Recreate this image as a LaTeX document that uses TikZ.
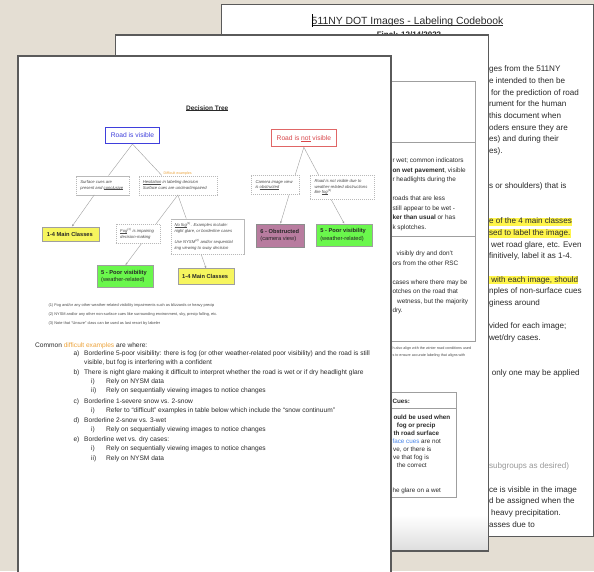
\documentclass[tikz,border=0pt]{standalone}
\usepackage{fontspec}
\setmainfont{Liberation Sans}
\usetikzlibrary{arrows.meta}
\definecolor{bgc}{HTML}{E4DED3}
\definecolor{pageedge}{HTML}{5A5A5A}
\definecolor{txt}{HTML}{2A2A2A}
\definecolor{hl}{HTML}{FFF54A}
\definecolor{vblue}{HTML}{3F3FDC}
\definecolor{nred}{HTML}{E06666}
\definecolor{nredt}{HTML}{D9464A}
\definecolor{myyellow}{HTML}{F6F55E}
\definecolor{mygreen}{HTML}{6AF74C}
\definecolor{mypurple}{HTML}{B87C9F}
\definecolor{orng}{HTML}{EDA33A}
\definecolor{lblue}{HTML}{4A86E8}
\newcommand{\myul}[1]{\leavevmode\setbox0\hbox{#1}\rlap{\rule[-0.13em]{\wd0}{0.07em}}\box0\relax}
\begin{document}
\begin{tikzpicture}[x=1pt,y=-1pt,
  bktext/.style={anchor=base west, inner sep=0pt, font=\fontsize{8.1}{9.5}\selectfont, text=txt},
  hltext/.style={bktext, fill=hl},
  mdtext/.style={anchor=base west, inner sep=0pt, font=\fontsize{6.4}{7.5}\selectfont, text=txt},
  fttext/.style={anchor=base west, inner sep=0pt, font=\fontsize{6.6}{8}\selectfont, text=txt},
  tinytext/.style={anchor=base west, inner sep=0pt, font=\fontsize{3.9}{4.5}\selectfont, text=txt!85},
  dbox/.style={draw=gray!55, dash pattern=on 1.2pt off 0.8pt, line width=0.4pt, inner sep=0pt, anchor=north west},
  dtext/.style={anchor=west, inner sep=0pt, align=left, font=\fontsize{4.2}{5.6}\selectfont\itshape, text=txt!85},
  cbox/.style={draw=gray!75, line width=0.6pt, inner sep=0pt, anchor=north west},
  ctext/.style={anchor=west, inner sep=0pt, align=left, font=\fontsize{5.7}{7.6}\selectfont, text=black!85},
  conn/.style={draw=gray!75, line width=0.4pt},
  arr/.style={conn, -{Stealth[length=2.6pt,width=2pt]}}
]
\useasboundingbox (0,0) rectangle (594,571);
\begin{scope}
\clip (0,0) rectangle (594,571);
\fill[bgc] (0,0) rectangle (594,571);

% ---------- back page ----------
\fill[white] (221.7,4.7) rectangle (593.3,536.7);
\draw[pageedge, line width=1.5pt] (221.7,4.7) rectangle (593.3,536.7);
\node[anchor=base, inner sep=0pt, font=\fontsize{10.4}{12}\selectfont, text=txt] (title) at (407.6,24.2) {\myul{511NY DOT Images - Labeling Codebook}};
\draw[black, line width=1pt] (312.3,14) -- (312.3,26.5);
\node[anchor=base, inner sep=0pt, font=\fontsize{8}{9}\selectfont\bfseries, text=txt] (final) at (409,37.6) {Final: 12/14/2022};

\node[bktext] (b0) at (488.8,71.9) {ges from the 511NY};
\node[bktext] (b1) at (488.8,83.6) {e intended to then be};
\node[bktext] (b2) at (491,95.2) {for the prediction of road};
\node[bktext] (b3) at (488.8,106.9) {rument for the human};
\node[bktext] (b4) at (488.8,118.6) {this document when};
\node[bktext] (b5) at (488.8,130.3) {oders ensure they are};
\node[bktext] (b6) at (488.8,141.9) {es) and during their};
\node[bktext] (b7) at (488.8,153.6) {es).};
\node[bktext] (b9b) at (488.8,188.9) {s or shoulders) that is};
\node[hltext] (b13) at (488.8,223.6) {\rule[-2.4pt]{0pt}{7.8pt}e of the 4 main classes};
\node[hltext] (b14) at (488.8,235.3) {\rule[-2.4pt]{0pt}{7.8pt}sed to label the image.};
\node[bktext] (b15) at (491,247.0) {wet road glare, etc. Even};
\node[bktext] (b16) at (488.8,258.6) {finitively, label it as 1-4.};
\node[hltext] (b18) at (488.8,282.0) {\rule[-2.4pt]{0pt}{7.8pt}\ with each image, should};
\node[bktext] (b19) at (488.8,293.7) {nples of non-surface cues};
\node[bktext] (b20) at (488.8,305.3) {giness around};
\node[bktext] (b22) at (488.8,328.7) {vided for each image;};
\node[bktext] (b23) at (488.8,340.4) {wet/dry cases.};
\node[bktext] (b26) at (491.6,375.3) {only one may be applied};
\node[bktext, text=black!40] (b34) at (488.8,468.7) {subgroups as desired)};
\node[bktext] (b36) at (488.8,492.0) {ce is visible in the image};
\node[bktext] (b37) at (488.8,503.7) {d be assigned when the};
\node[bktext] (b38) at (491,515.4) {heavy precipitation.};
\node[bktext] (b39) at (488.8,527.0) {asses due to};

% ---------- middle page ----------
\fill[white] (115.3,34.7) rectangle (488.3,551);
\shade[top color=white, bottom color=black!13] (116,515) rectangle (487.6,550.3);
\draw[pageedge, line width=1.6pt] (115.3,34.7) rectangle (488.3,551);
\draw[gray!75, line width=0.7pt] (380,81) -- (475,81) -- (475,341) -- (380,341);
\draw[gray!75, line width=0.7pt] (380,142.7) -- (475,142.7);
\draw[gray!75, line width=0.7pt] (380,236) -- (475,236);
\node[mdtext] (m1) at (392.3,162.8) {r wet; common indicators};
\node[mdtext] (m2) at (392.3,172.4) {\textbf{on wet pavement}, visible};
\node[mdtext] (m3) at (392.3,181.8) {r headlights during the};
\node[mdtext] (m4) at (392.3,200.8) {roads that are less};
\node[mdtext] (m5) at (392.3,210.1) {still appear to be wet -};
\node[mdtext] (m6) at (392.3,219.4) {\textbf{ker than usual} or has};
\node[mdtext] (m7) at (392.3,229.1) {k splotches.};
\node[mdtext] (m8) at (396.5,255.8) {visibly dry and don't};
\node[mdtext] (m9) at (392.3,265.1) {ors from the other RSC};
\node[mdtext] (m10) at (392.3,284.1) {cases where there may be};
\node[mdtext] (m11) at (392.3,293.4) {otches on the road that};
\node[mdtext] (m12) at (397,303.1) {wetness, but the majority};
\node[mdtext] (m13) at (392.3,312.8) {dry.};
\node[tinytext, font=\fontsize{3.7}{4.5}\selectfont] (s1) at (392.3,349.5) {h also align with the winter road conditions used};
\node[tinytext, font=\fontsize{3.7}{4.5}\selectfont] (s2) at (392.3,356.9) {s to ensure accurate labeling that aligns with};
\draw[gray!75, line width=0.7pt] (380,392.7) -- (456.7,392.7) -- (456.7,497.7) -- (380,497.7);
\draw[gray!75, line width=0.7pt] (380,408.3) -- (456.7,408.3);
\node[mdtext, font=\fontsize{6.3}{7.5}\selectfont\bfseries] (q0) at (392.3,403.8) {Cues:};
\node[mdtext, font=\fontsize{6.3}{7.5}\selectfont\bfseries] (q1) at (393.3,419.1) {ould be used when};
\node[mdtext, font=\fontsize{6.3}{7.5}\selectfont\bfseries] (q2) at (396.7,427.1) {fog or precip};
\node[mdtext, font=\fontsize{6.3}{7.5}\selectfont\bfseries] (q3) at (393.3,435.4) {th road surface};
\node[mdtext, font=\fontsize{6.3}{7.5}\selectfont] (q4) at (392.3,443.8) {\textcolor{lblue}{face cues} are not};
\node[mdtext, font=\fontsize{6.3}{7.5}\selectfont] (q5) at (393,451.8) {ve, or there is};
\node[mdtext, font=\fontsize{6.3}{7.5}\selectfont] (q6) at (393,459.8) {ve that fog is};
\node[mdtext, font=\fontsize{6.3}{7.5}\selectfont] (q7) at (396.7,467.8) {the correct};
\node[mdtext, font=\fontsize{6.3}{7.5}\selectfont] (q8) at (392.3,492.8) {he glare on a wet};

% ---------- front page ----------
\fill[white] (18,55.7) rectangle (391,600);
\draw[pageedge, line width=1.7pt] (18,600) -- (18,55.7) -- (391,55.7) -- (391,600);

\node[anchor=base, inner sep=0pt, font=\fontsize{6.5}{8}\selectfont\bfseries, text=txt] (dt) at (207.2,110) {\myul{Decision Tree}};

\node[draw=vblue, line width=0.9pt, anchor=north west, minimum width=53.4pt, minimum height=16.4pt, inner sep=0pt, font=\fontsize{6.7}{8}\selectfont, text=vblue] (rv) at (105.3,126.7) {Road is visible};
\node[draw=nred, line width=0.9pt, anchor=north west, minimum width=64.4pt, minimum height=17.1pt, inner sep=0pt, font=\fontsize{6.7}{8}\selectfont, text=nredt] (rnv) at (271.2,129.3) {Road is \myul{not} visible};

\node[dbox, minimum width=53.1pt, minimum height=19pt] (sc) at (76.1,175.5) {};
\node[dtext] (sc-t) at ([xshift=4pt]sc.west) {Surface cues are\\present and \myul{conclusive}};
\node[dbox, minimum width=78.1pt, minimum height=19pt] (hes) at (138.6,175.5) {};
\node[dtext] (hes-t) at ([xshift=4pt]hes.west) {\myul{Hesitation} in labeling decision\\Surface cues are unclear/impaired};
\node[anchor=center, inner sep=0pt, font=\fontsize{3.6}{4}\selectfont, text=orng] (dif) at (177.7,173.2) {Difficult examples};
\node[dbox, minimum width=48pt, minimum height=19.2pt] (cam) at (251,174.8) {};
\node[dtext] (cam-t) at ([xshift=4.3pt]cam.west) {Camera image view\\is \myul{obstructed}};
\node[dbox, minimum width=64.4pt, minimum height=24.4pt] (rnvd) at (309.8,174.8) {};
\node[dtext] (rnvd-t) at ([xshift=4.5pt]rnvd.west) {Road is not visible due to\\weather-related obstructions\\like \myul{fog}\textsuperscript{(1)}};

\node[cbox, fill=myyellow, minimum width=56.5pt, minimum height=14.5pt] (m1b) at (42.4,226.5) {};
\node[ctext] (m1b-t) at ([xshift=4.3pt]m1b.west) {\textbf{1-4 Main Classes}};
\node[dbox, minimum width=44.5pt, minimum height=19.3pt] (fog) at (115.5,224) {};
\node[dtext] (fog-t) at ([xshift=4.5pt]fog.west) {\myul{Fog}\textsuperscript{(1)} is impairing\\decision-making};
\node[dbox, minimum width=73.1pt, minimum height=35.7pt] (nofog) at (170.5,218.5) {};
\node[dtext] (nofog-t) at ([xshift=3.8pt]nofog.west) {\myul{No fog}\textsuperscript{(1)}. Examples include:\\night glare, or borderline cases\\[5.6pt]Use NYSM\textsuperscript{(2)} and/or sequential\\img viewing to sway decision};
\node[cbox, fill=mypurple, draw=gray!90, minimum width=47.4pt, minimum height=23.3pt] (obs) at (256.4,223.6) {};
\node[ctext] (obs-t) at ([xshift=3.8pt]obs.west) {\textbf{6 - Obstructed}\\(camera view)};
\node[cbox, fill=mygreen, minimum width=55.3pt, minimum height=22.6pt] (pv2) at (316.3,223.6) {};
\node[ctext] (pv2-t) at ([xshift=3.8pt]pv2.west) {\textbf{5 - Poor visibility}\\(weather-related)};
\node[cbox, fill=mygreen, minimum width=56.4pt, minimum height=22.3pt] (pv1) at (97,265) {};
\node[ctext] (pv1-t) at ([xshift=4pt]pv1.west) {\textbf{5 - Poor visibility}\\(weather-related)};
\node[cbox, fill=myyellow, minimum width=56.3pt, minimum height=15.3pt] (m2b) at (177.7,268.4) {};
\node[ctext] (m2b-t) at ([xshift=4.3pt]m2b.west) {\textbf{1-4 Main Classes}};

\draw[conn] (rv.south) -- ([xshift=5.7pt]sc.north);
\draw[conn] (rv.south) -- ([xshift=-16pt]hes.north);
\draw[conn] (rnv.south) -- ([xshift=20pt]cam.north);
\draw[conn] (rnv.south) -- ([xshift=-23.7pt]rnvd.north);
\draw[arr] ([xshift=-8.6pt]sc.south) -- ([xshift=1pt]m1b.north);
\draw[conn] (hes.south) -- ([xshift=18pt]fog.north);
\draw[conn] (hes.south) -- ([xshift=-21pt]nofog.north);
\draw[arr] ([xshift=3.5pt]fog.south) -- (pv1.north);
\draw[arr] ([xshift=-6pt]nofog.south) -- (m2b.north);
\draw[arr] ([xshift=14pt]cam.south) -- (obs.north);
\draw[arr] ([xshift=-11pt]rnvd.south) -- (pv2.north);

\node[tinytext] (fn1) at (48.3,306.3) {(1) Fog and/or any other weather-related visibility impairments such as blizzards or heavy precip};
\node[tinytext] (fn2) at (48.3,315.3) {(2) NYSM and/or any other non-surface cues like surrounding environment, sky, precip falling, etc.};
\node[tinytext] (fn3) at (48.3,324.3) {(3) Note that “Unsure” class can be used as last resort by labeler};

\node[fttext] (c0) at (35,347.2) {Common \textcolor{orng}{difficult examples} are where:};
\node[fttext] (la) at (73.3,355.5) {a)};
\node[fttext] (ta1) at (84,355.5) {Borderline 5-poor visibility: there is fog (or other weather-related poor visibility) and the road is still};
\node[fttext] (ta2) at (84,364.9) {visible, but fog is interfering with a confident};
\node[fttext] (lb) at (73.3,374.5) {b)};
\node[fttext] (tb) at (84,374.5) {There is night glare making it difficult to interpret whether the road is wet or if dry headlight glare};
\node[fttext] (lbi) at (91,383.5) {i)};
\node[fttext] (tbi) at (106,383.5) {Rely on NYSM data};
\node[fttext] (lbii) at (91,392.9) {ii)};
\node[fttext] (tbii) at (106,392.9) {Rely on sequentially viewing images to notice changes};
\node[fttext] (lc) at (73.3,403.2) {c)};
\node[fttext] (tc) at (84,403.2) {Borderline 1-severe snow vs. 2-snow};
\node[fttext] (lci) at (91,412.9) {i)};
\node[fttext] (tci) at (106,412.9) {Refer to “difficult” examples in table below which include the “snow continuum”};
\node[fttext] (ld) at (73.3,422.2) {d)};
\node[fttext] (td) at (84,422.2) {Borderline 2-snow vs. 3-wet};
\node[fttext] (ldi) at (91,431.9) {i)};
\node[fttext] (tdi) at (106,431.9) {Rely on sequentially viewing images to notice changes};
\node[fttext] (le) at (73.3,441.2) {e)};
\node[fttext] (te) at (84,441.2) {Borderline wet vs. dry cases:};
\node[fttext] (lei) at (91,450.9) {i)};
\node[fttext] (tei) at (106,450.9) {Rely on sequentially viewing images to notice changes};
\node[fttext] (leii) at (91,460.5) {ii)};
\node[fttext] (teii) at (106,460.5) {Rely on NYSM data};
\end{scope}
\end{tikzpicture}
\end{document}
